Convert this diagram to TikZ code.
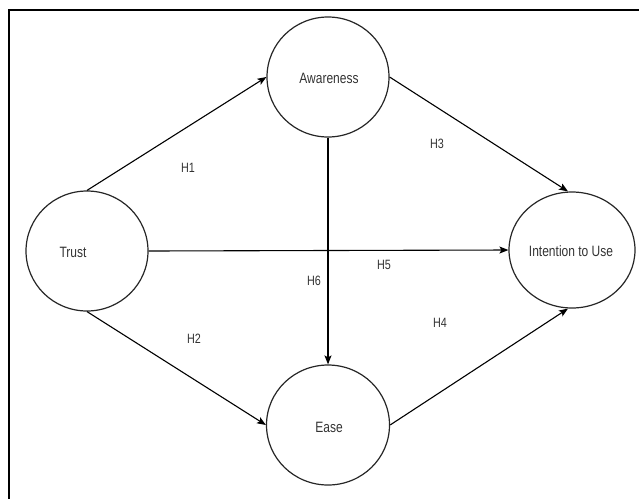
\documentclass[tikz,border=0pt]{standalone}
\usepackage{fontspec}
\setmainfont[FakeStretch=0.8]{Liberation Sans}
\usetikzlibrary{arrows.meta,shapes.geometric}
\definecolor{txt}{HTML}{333333}
\tikzset{
  circ/.style={draw=black!85, line width=1.2pt, ellipse, minimum width=#1, minimum height=120pt, inner sep=0pt},
  lbl/.style={text=txt, font=\fontsize{15}{17}\selectfont, inner sep=0pt},
  hyp/.style={text=txt, font=\fontsize{13.5}{15}\selectfont, inner sep=0pt},
  conn/.style={line width=1.1pt, -{Stealth[length=9pt,width=7pt,inset=2pt]}},
  frame/.style={line width=2pt}
}
\begin{document}
\begin{tikzpicture}[x=1pt,y=-1pt]
\useasboundingbox (0,0) rectangle (639,499);
\coordinate (tl) at (9,9.5);
\coordinate (tr) at (639,9.5);
\coordinate (bl) at (9,499);
\draw[frame] (tr) -- (tl) -- (bl);

\node[circ=122pt] (aw) at (328,77) {};
\node[circ=122pt] (tr1) at (87,251) {};
\node[circ=126pt, minimum height=116pt] (it) at (572,250) {};
\node[circ=123pt] (ea) at (328,425) {};

\node[lbl] (awt) at (329,78) {Awareness};
\node[lbl] (trt) at (73,252) {Trust};
\node[lbl] (itt) at (571,251) {Intention to Use};
\node[lbl] (eat) at (329,427) {Ease};

\draw[conn] (tr1.north) -- (aw.west);
\draw[conn] (tr1.south) -- (ea.west);
\draw[conn] (tr1.east) -- (it.west);
\draw[conn] (aw.east) -- ([xshift=-4pt]it.north);
\draw[conn] (ea.east) -- ([xshift=-4pt]it.south);
\draw[conn] (aw.south) -- (ea.north);

\node[hyp] (h1) at (188,168) {H1};
\node[hyp] (h2) at (194,339) {H2};
\node[hyp] (h3) at (437,144) {H3};
\node[hyp] (h4) at (440,323) {H4};
\node[hyp] (h5) at (384,265) {H5};
\node[hyp] (h6) at (314,281) {H6};
\end{tikzpicture}
\end{document}
